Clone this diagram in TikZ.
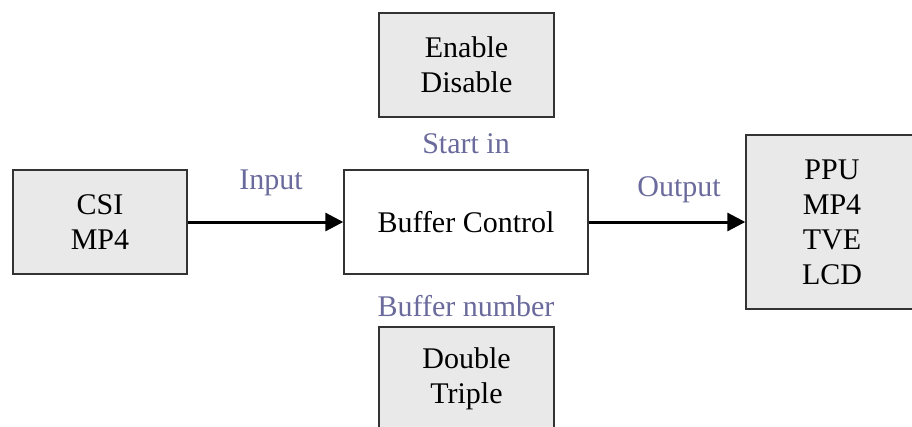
\documentclass[tikz,border=0pt]{standalone}
\usepackage{fontspec}
\setmainfont{Liberation Serif}
\usetikzlibrary{arrows.meta}
\definecolor{boxgray}{HTML}{E9E9E9}
\definecolor{edgegray}{HTML}{333333}
\definecolor{labelpurple}{HTML}{6A6A9C}
\tikzset{
  blockbox/.style={draw=edgegray, line width=1.4pt, fill=boxgray, align=center,
    inner sep=0pt, font=\fontsize{30}{35}\selectfont},
  ctrlbox/.style={blockbox, fill=white},
  sidelabel/.style={text=labelpurple, anchor=base, inner sep=0pt,
    font=\fontsize{30}{35}\selectfont},
  flow/.style={line width=3pt, -{Triangle[length=18pt,width=18pt]}}
}
\begin{document}
\begin{tikzpicture}[x=1pt,y=-1pt]
  \clip (0,0) rectangle (912,426);
  \fill[white] (0,0) rectangle (912,426);

  % blocks
  \node[blockbox, minimum width=174pt, minimum height=104pt] (src) at (100,222) {CSI\\MP4};
  \node[ctrlbox, minimum width=244pt, minimum height=104pt] (ctrl) at (466,222) {Buffer Control};
  \node[blockbox, minimum width=175pt, minimum height=104pt] (en) at (466.5,65) {Enable\\Disable};
  \node[blockbox, minimum width=175pt, minimum height=104pt] (num) at (466.5,379) {Double\\Triple};
  \node[blockbox, minimum width=172pt, minimum height=174pt] (dst) at (832,222) {PPU\\MP4\\TVE\\LCD};

  % data flow
  \draw[flow] (src.east) -- (ctrl.west);
  \draw[flow] (ctrl.east) -- (dst.west);

  % labels
  \node[sidelabel] (lin) at (271,189) {Input};
  \node[sidelabel] (lout) at (679,196) {Output};
  \node[sidelabel] (lstart) at (466,153) {Start in};
  \node[sidelabel] (lnum) at (466,316) {Buffer number};
\end{tikzpicture}
\end{document}
